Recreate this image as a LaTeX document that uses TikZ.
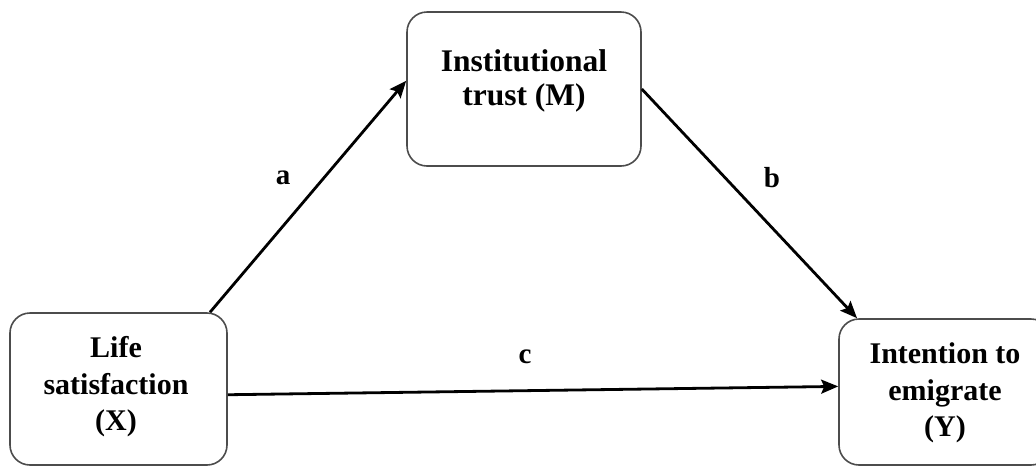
\documentclass[tikz,border=0pt]{standalone}
\usepackage{fontspec}
\setmainfont{Liberation Serif}
\usetikzlibrary{arrows.meta}
\begin{document}
\begin{tikzpicture}[x=1pt,y=-1pt,
  varbox/.style={draw=black!70, line width=1.6pt, rounded corners=20pt,
    fill=white, inner sep=0pt},
  vartext/.style={align=center, font=\bfseries\fontsize{30}{36.5}\selectfont},
  toptext/.style={align=center, font=\bfseries\fontsize{31.5}{34}\selectfont},
  pathlabel/.style={font=\bfseries\fontsize{29}{34}\selectfont},
  path/.style={line width=2.8pt, black,
    -{Stealth[length=17pt,width=14pt,inset=3pt]}}]
  \useasboundingbox (0,0) rectangle (1036,467);
  \clip (0,0) rectangle (1036,467);

  % variable boxes
  \node[varbox, minimum width=234pt, minimum height=154pt] (M) at (524,89) {};
  \node[varbox, minimum width=217pt, minimum height=152pt] (X) at (118.5,389) {};
  \node[varbox, minimum width=212pt, minimum height=146pt] (Y) at (945,392) {};

  % box texts
  \node[toptext] (Mt) at (524,81) {Institutional\\trust (M)};
  \node[vartext] (Xt) at (116,387) {Life\\satisfaction\\(X)};
  \node[vartext] (Yt) at (945,393) {Intention to\\emigrate\\(Y)};

  % paths of the mediation model
  \draw[path] (X.40.6) -- (M.176.6);
  \draw[path] (M.east) -- (Y.140.3);
  \draw[path] (X.-3.2) -- (Y.177.8);

  % path labels
  \node[pathlabel] (la) at (283,178) {a};
  \node[pathlabel] (lb) at (772,178) {b};
  \node[pathlabel] (lc) at (525,357) {c};
\end{tikzpicture}
\end{document}
